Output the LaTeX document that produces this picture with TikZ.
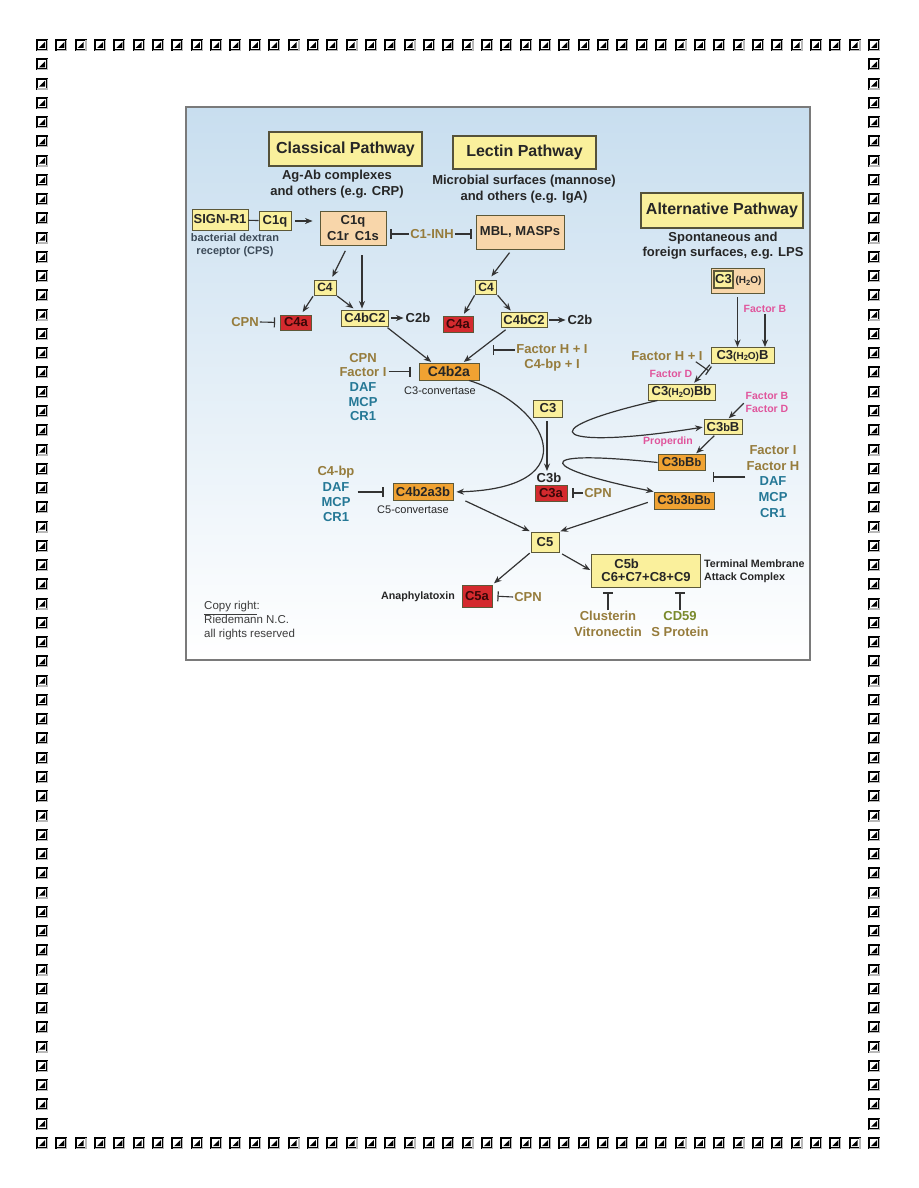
\documentclass[tikz,border=0pt]{standalone}
\usepackage{fontspec}
\setmainfont{Liberation Sans}
\usetikzlibrary{arrows.meta,calc}
\definecolor{yel}{HTML}{FAF09C}
\definecolor{peach}{HTML}{F8D6AA}
\definecolor{orng}{HTML}{F0A232}
\definecolor{redb}{HTML}{D42A2E}
\definecolor{redtxt}{HTML}{3A0808}
\definecolor{boxline}{HTML}{5C5838}
\definecolor{titleline}{HTML}{55523A}
\definecolor{txtdark}{HTML}{262626}
\definecolor{olv}{HTML}{967C3C}
\definecolor{tealc}{HTML}{257896}
\definecolor{pinkc}{HTML}{E0559C}
\definecolor{slate}{HTML}{3C4A58}
\definecolor{cdgreen}{HTML}{7A8A2C}
\definecolor{arrc}{HTML}{333333}
\definecolor{panelline}{HTML}{7A7A7A}
\definecolor{bgtop}{HTML}{C8DEEF}
\definecolor{bgmid}{HTML}{DCE9F4}
\newcommand\fsz[2]{\fontsize{#1}{#2}\selectfont}
\newcommand\hto{{\fsz{10}{11}(H\raisebox{-1.5pt}{\fsz{7.5}{8}2}O)}}
\newcommand\smb{{\fsz{11}{12}b}}
\newcommand\bicn{%
  \fill[black] (-6,-6) rectangle (6,6);
  \fill[gray!55] (4.8,-4.8) rectangle (6,6);
  \fill[gray!55] (-4.8,4.8) rectangle (6,6);
  \fill[white] (-4,-4) rectangle (4,4);
  \fill[black] (3,-3) -- (3,3) -- (-3,3) -- cycle;
}
\tikzset{
  box/.style={draw=boxline, line width=0.9pt, inner sep=0pt, font=\bfseries\fsz{13}{15}, text=txtdark},
  ybox/.style={box, fill=yel},
  pbox/.style={box, fill=peach},
  obox/.style={box, fill=orng},
  rbox/.style={box, fill=redb, text=redtxt},
  titlebox/.style={draw=titleline, line width=1.3pt, fill=yel, font=\bfseries\fsz{16}{19}, text=txtdark, inner sep=0pt},
  lbl/.style={font=\bfseries\fsz{13}{15}, text=txtdark, inner sep=1pt, align=center},
  olvt/.style={lbl, text=olv},
  pinkt/.style={lbl, text=pinkc, font=\bfseries\fsz{10.5}{13}},
  arr/.style={draw=arrc, line width=1.2pt, -{Stealth[length=7.5pt,width=6pt]}},
  inh/.style={draw=arrc, line width=1.1pt, -{Bar[width=10pt,line width=1.2pt]}},
  plainline/.style={draw=arrc, line width=1.1pt},
}
\begin{document}
\begin{tikzpicture}[x=1pt,y=-1pt]
\useasboundingbox (0,0) rectangle (918,1188);
\fill[white] (0,0) rectangle (918,1188);
% page border of icons
\foreach \i in {0,...,43} {
  \begin{scope}[shift={({42+\i*19.349},45)}]\bicn\end{scope}
  \begin{scope}[shift={({42+\i*19.349},1143)}]\bicn\end{scope}
}
\foreach \j in {1,...,56} {
  \begin{scope}[shift={(42,{45+\j*19.263})}]\bicn\end{scope}
  \begin{scope}[shift={(874,{45+\j*19.263})}]\bicn\end{scope}
}
% panel
\shade[top color=bgtop, middle color=bgmid, bottom color=white] (186,107) rectangle (810,660);
\draw[panelline, line width=1.5pt] (186,107) rectangle (810,660);

% titles
\node[titlebox, minimum width=153pt, minimum height=34pt] (tcl) at (345.5,149) {Classical Pathway};
\node[lbl, font=\bfseries\fsz{13}{16}] (agab) at (337,184) {Ag-Ab complexes\\and others (e.g. CRP)};
\node[titlebox, minimum width=143pt, minimum height=33pt] (tle) at (524.5,152.5) {Lectin Pathway};
\node[lbl, font=\bfseries\fsz{13}{16}] (micro) at (524,189) {Microbial surfaces (mannose)\\and others (e.g. IgA)};
\node[titlebox, minimum width=162pt, minimum height=35pt] (tal) at (722,210.5) {Alternative Pathway};
\node[lbl, font=\bfseries\fsz{13}{15}] (spont) at (723,245.5) {Spontaneous and\\foreign surfaces, e.g. LPS};

% classical
\node[ybox, minimum width=56pt, minimum height=21pt] (signr1) at (220,219.5) {SIGN-R1};
\node[ybox, minimum width=32pt, minimum height=19pt] (c1qs) at (275,221) {C1q};
\node[lbl, font=\bfseries\fsz{11}{13}, text=slate] (bact) at (235,245.5) {bacterial dextran\\receptor (CPS)};
\node[pbox, minimum width=66pt, minimum height=34pt, align=center, font=\bfseries\fsz{13}{16}] (c1) at (353,228) {C1q\\C1r\hspace{6pt}C1s};
\node[olvt] (c1inh) at (432,234) {C1-INH};
\node[pbox, minimum width=88pt, minimum height=34pt] (mbl) at (520,232) {MBL, MASPs};
\node[ybox, minimum width=22pt, minimum height=15pt, font=\bfseries\fsz{12}{14}] (c4c) at (325,287.5) {C4};
\node[rbox, minimum width=31pt, minimum height=15pt] (c4ac) at (296,322.5) {C4a};
\node[olvt] (cpn1) at (245,322) {CPN};
\node[ybox, minimum width=47pt, minimum height=16pt] (c4bc2c) at (365,318) {C4bC2};
\node[lbl] (c2b1) at (418,318) {C2b};
% lectin
\node[ybox, minimum width=21pt, minimum height=14pt, font=\bfseries\fsz{12}{14}] (c4l) at (486,287) {C4};
\node[rbox, minimum width=30pt, minimum height=16pt] (c4al) at (458,324) {C4a};
\node[ybox, minimum width=46pt, minimum height=15pt] (c4bc2l) at (524,320) {C4bC2};
\node[lbl] (c2b2) at (580,320) {C2b};
\node[obox, minimum width=60pt, minimum height=17pt, font=\bfseries\fsz{14}{16}] (c4b2a) at (449,371.5) {C4b2a};
\node[lbl, font=\fsz{11}{13}] (c3conv) at (440,391) {C3-convertase};
\node[lbl, font=\bfseries\fsz{13}{14.6}] (inhA) at (363,387) {\textcolor{olv}{CPN}\\\textcolor{olv}{Factor I}\\\textcolor{tealc}{DAF}\\\textcolor{tealc}{MCP}\\\textcolor{tealc}{CR1}};
\node[olvt] (fhi) at (552,357.5) {Factor H + I\\C4-bp + I};
\coordinate (fhibar) at (493,350);

% middle
\node[ybox, minimum width=29pt, minimum height=17pt] (c3) at (548,408.5) {C3};
\node[lbl] (c3b) at (549,478) {C3b};
\node[rbox, minimum width=32pt, minimum height=16pt] (c3a) at (551,493) {C3a};
\node[olvt] (cpn3) at (598,493) {CPN};
\node[obox, minimum width=60pt, minimum height=17pt] (c4b2a3b) at (423,492) {C4b2a3b};
\node[lbl, font=\fsz{11}{13}] (c5conv) at (413,510) {C5-convertase};
\node[lbl, font=\bfseries\fsz{13}{15.3}] (inhB) at (336,494) {\textcolor{olv}{C4-bp}\\\textcolor{tealc}{DAF}\\\textcolor{tealc}{MCP}\\\textcolor{tealc}{CR1}};
\node[ybox, minimum width=28pt, minimum height=20pt] (c5) at (545,542) {C5};
\node[rbox, minimum width=30pt, minimum height=22pt] (c5a) at (477,596) {C5a};
\node[lbl, font=\bfseries\fsz{10.7}{12}] (anaph) at (418,597) {Anaphylatoxin};
\node[olvt] (cpn5) at (528,597) {CPN};
\node[ybox, minimum width=109pt, minimum height=33pt, align=left, font=\bfseries\fsz{13}{13}] (c5b) at (646,570.5) {\hspace*{13pt}C5b\\C6+C7+C8+C9};
\node[lbl, anchor=west, align=left, font=\bfseries\fsz{10.7}{13}] (tmac) at (703,571.5) {Terminal Membrane\\Attack Complex};
\node[olvt, font=\bfseries\fsz{13}{16}] (clus) at (608,624) {Clusterin\\Vitronectin};
\node[olvt, font=\bfseries\fsz{13}{16}] (cd59) at (680,624) {\textcolor{cdgreen}{CD59}\\S Protein};
\node[lbl, anchor=west, align=left, font=\fsz{11.5}{14}, text=txtdark!90] (copy) at (203,621) {\underline{Copy right}:\\Riedemann N.C.\\all rights reserved};

% alternative
\node[pbox, minimum width=53pt, minimum height=25pt] (c3h2o) at (737.5,280.5) {};
\node[ybox, minimum width=19pt, minimum height=17pt, line width=1.1pt] (c3in) at (723.5,279.5) {C3};
\node[lbl, font=\bfseries\fsz{10}{11}, inner sep=0pt] (h2o) at (748.5,281) {(H\raisebox{-1.5pt}{\fsz{7.5}{8}2}O)};
\node[pinkt] (facB1) at (765,309) {Factor B};
\node[ybox, minimum width=63pt, minimum height=16pt] (c3h2ob) at (742.5,355.5) {C3\hto B};
\node[olvt] (fhi2) at (667,356) {Factor H + I};
\coordinate (fhibar2) at (709,371);
\node[pinkt] (facD1) at (671,374) {Factor D};
\node[ybox, minimum width=67pt, minimum height=16pt] (c3h2obb) at (681.5,392) {C3\hto Bb};
\node[pinkt] (facBD) at (767,402.5) {Factor B\\Factor D};
\node[ybox, minimum width=38pt, minimum height=15pt] (c3bB) at (723,427) {C3\smb B};
\node[pinkt] (prop) at (668,442) {Properdin};
\node[obox, minimum width=47pt, minimum height=16pt] (c3bBb) at (681.5,462.5) {C3\smb B\smb};
\node[obox, minimum width=60pt, minimum height=17pt] (c3b3bBb) at (684,500.5) {C3\smb 3\smb B\smb};
\node[lbl, font=\bfseries\fsz{13}{15.75}] (inhC) at (773,481.5) {\textcolor{olv}{Factor I}\\\textcolor{olv}{Factor H}\\\textcolor{tealc}{DAF}\\\textcolor{tealc}{MCP}\\\textcolor{tealc}{CR1}};
\coordinate (inhCbar) at (713,477);

% connectors classical / lectin
\draw[plainline] (signr1) -- (c1qs);
\draw[arr, shorten <=4pt, shorten >=7pt] (c1qs.east) -- (c1.west |- c1qs.east);
\draw[arr, shorten <=6pt, shorten >=3pt] ([xshift=-5pt]c1.south) -- ([xshift=6pt]c4c.north);
\draw[arr, shorten <=10pt, shorten >=1pt] ([xshift=9pt]c1.south) -- ([xshift=-3pt]c4bc2c.north);
\draw[arr, shorten <=1pt, shorten >=3pt] (c4c.south west) -- ([xshift=5pt]c4ac.north);
\draw[arr, shorten <=1pt, shorten >=2pt] (c4c.south east) -- ([xshift=-10pt]c4bc2c.north);
\draw[arr, shorten <=2pt, shorten >=1pt] (c4bc2c.east) -- (c2b1.west);
\draw[arr, shorten <=2pt, shorten >=1pt] ([xshift=-3pt]c4bc2c.south east) -- ([xshift=-17pt]c4b2a.north);
\draw[inh, shorten >=5pt] (cpn1.east) -- (c4ac.west);
\draw[inh, shorten >=4pt] (c1inh.west) -- (c1.east |- c1inh.west);
\draw[inh, shorten >=4pt] (c1inh.east) -- (mbl.west |- c1inh.east);
\draw[arr, shorten <=4pt, shorten >=4pt] ([xshift=-8pt]mbl.south) -- ([xshift=3pt]c4l.north);
\draw[arr, shorten <=1pt, shorten >=2pt] (c4l.south west) -- ([xshift=5pt]c4al.north);
\draw[arr, shorten <=1pt, shorten >=2pt] (c4l.south east) -- ([xshift=-12pt]c4bc2l.north);
\draw[arr, shorten <=2pt, shorten >=1pt] (c4bc2l.east) -- (c2b2.west);
\draw[arr, shorten <=3pt, shorten >=1pt] ([xshift=-16pt]c4bc2l.south) -- ([xshift=14pt]c4b2a.north);
\draw[inh] (fhi.west |- fhibar) -- (fhibar);
\draw[inh, shorten <=1pt, shorten >=8pt] (inhA.east |- c4b2a.west) -- (c4b2a.west);
% middle
\draw[arr, shorten >=3pt] ([xshift=20pt]c4b2a.south) .. controls (548,405) and (590,488) .. (c4b2a3b.east);
\draw[arr, shorten <=4pt, shorten >=1pt] ([xshift=-1pt]c3.south) -- ([xshift=-1pt]c3.south |- c3b.north);
\draw[inh, shorten >=5pt] (cpn3.west) -- (c3a.east);
\draw[inh, shorten <=2pt, shorten >=9pt] (inhB.east |- c4b2a3b.west) -- (c4b2a3b.west);
\draw[arr, shorten >=1pt] ($(c4b2a3b.south east)+(12,0)$) -- (c5.north west);
\draw[arr, shorten <=6pt, shorten >=1pt] (c3b3bBb.west) -- (c5.north east);
\draw[arr, shorten <=1pt, shorten >=2pt] (c5.south west) -- (c5a.north east);
\draw[arr, shorten <=3pt, shorten >=1pt] (c5.south east) -- (c5b.west);
\draw[inh, shorten >=5pt] (cpn5.west) -- (c5a.east);
\draw[inh, shorten >=5pt] (clus.north) -- (clus.north |- c5b.south);
\draw[inh, shorten >=5pt] (cd59.north) -- (cd59.north |- c5b.south);
% alternative
\draw[arr, shorten <=4pt] (c3h2o.south) -- (c3h2o.south |- c3h2ob.north);
\draw[arr] (facB1.south) -- (facB1.south |- c3h2ob.north);
\draw[arr, shorten <=1pt, shorten >=1pt] (c3h2ob.south west) -- ([xshift=12pt]c3h2obb.north);
\draw[inh] ([xshift=-8pt]fhi2.south east) -- (fhibar2);
\draw[arr, shorten >=1pt] ([xshift=10pt]c3h2obb.south west) .. controls (520,432) and (560,450) .. (c3bB.west);
\draw[arr, shorten <=1pt, shorten >=1pt] (facBD.west) -- ([xshift=5pt]c3bB.north);
\draw[arr, shorten <=1pt, shorten >=1pt] ([xshift=-8pt]c3bB.south) -- ([xshift=14pt]c3bBb.north);
\draw[arr] (c3bBb.west) .. controls (520,448) and (545,470) .. (c3b3bBb.north west);
\draw[inh] (inhC.west |- inhCbar) -- (inhCbar);
\end{tikzpicture}
\end{document}
